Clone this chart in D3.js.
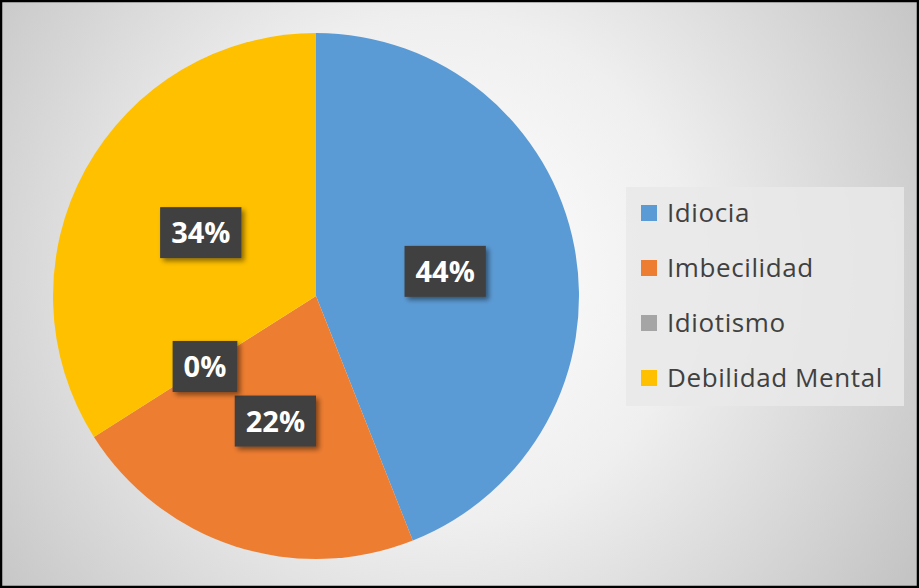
<!DOCTYPE html>
<html>
<head>
<meta charset="utf-8">
<script src="https://cdn.jsdelivr.net/npm/d3@7"></script>
<style>
  body { margin: 0; background: #fff; }
  svg { display: block; }
</style>
</head>
<body>
<div id="chart"></div>
<script>
// Datos del gráfico
const categories = ["Idiocia", "Imbecilidad", "Idiotismo", "Debilidad Mental"];
const values = [44, 22, 0, 34];
const colors = ["#5B9BD5", "#ED7D31", "#A5A5A5", "#FFC000"];

const width = 919;
const height = 588;
const cx = 316, cy = 296, radius = 263;

const svg = d3.select("#chart").append("svg")
  .attr("width", width)
  .attr("height", height);

const defs = svg.append("defs");

// Fondo con degradado radial
const bg = defs.append("radialGradient")
  .attr("id", "bg")
  .attr("gradientUnits", "userSpaceOnUse")
  .attr("cx", 440).attr("cy", 270).attr("r", 560);
bg.append("stop").attr("offset", "0%").attr("stop-color", "#ffffff");
bg.append("stop").attr("offset", "45%").attr("stop-color", "#efefef");
bg.append("stop").attr("offset", "100%").attr("stop-color", "#c4c4c4");

// Sombra de las etiquetas
const shadow = defs.append("filter")
  .attr("id", "shadow")
  .attr("x", "-20%").attr("y", "-20%")
  .attr("width", "150%").attr("height", "150%");
shadow.append("feDropShadow")
  .attr("dx", 3).attr("dy", 3)
  .attr("stdDeviation", 2.5)
  .attr("flood-color", "#000")
  .attr("flood-opacity", 0.45);

svg.append("rect")
  .attr("x", 0).attr("y", 0)
  .attr("width", width).attr("height", height)
  .attr("fill", "url(#bg)");

// Borde negro
svg.append("rect")
  .attr("x", 1).attr("y", 1)
  .attr("width", width - 2).attr("height", height - 2)
  .attr("fill", "none")
  .attr("stroke", "#000")
  .attr("stroke-width", 2.5);

const pieData = d3.pie().sort(null)(values);

const arc = d3.arc().innerRadius(0).outerRadius(radius);

const g = svg.append("g").attr("transform", `translate(${cx},${cy})`);

g.selectAll(".slice")
  .data(pieData)
  .enter()
  .append("path")
  .attr("class", "slice")
  .attr("d", arc)
  .attr("fill", (d, i) => colors[i]);

// Etiquetas de porcentaje
const labels = g.selectAll(".pct")
  .data(pieData)
  .enter()
  .append("g")
  .attr("class", "pct")
  .attr("transform", d => `translate(${arc.centroid(d)})`);

labels.each(function (d) {
  const lg = d3.select(this);
  const box = lg.append("rect")
    .attr("fill", "#404040")
    .attr("filter", "url(#shadow)");
  const txt = lg.append("text")
    .attr("text-anchor", "middle")
    .attr("dy", "0.36em")
    .style("font-family", "'Open Sans', sans-serif")
    .style("font-weight", "700")
    .style("font-size", "29px")
    .style("fill", "#fff")
    .text(d.data + "%");
  const w = txt.node().getComputedTextLength();
  box.attr("x", -w / 2 - 11)
    .attr("y", -25.5)
    .attr("width", w + 22)
    .attr("height", 51);
});

// Leyenda
const legend = svg.append("g").attr("transform", "translate(626,187)");

legend.append("rect")
  .attr("width", 278).attr("height", 219)
  .attr("fill", "#e9e9e9")
  .attr("fill-opacity", 0.85);

const items = legend.selectAll(".item")
  .data(categories)
  .enter()
  .append("g")
  .attr("class", "item")
  .attr("transform", (d, i) => `translate(15,${26 + i * 55})`);

items.append("rect")
  .attr("x", 0).attr("y", -8)
  .attr("width", 16).attr("height", 16)
  .attr("fill", (d, i) => colors[i]);

items.append("text")
  .attr("x", 26)
  .attr("dy", "0.36em")
  .style("font-family", "'Open Sans', sans-serif")
  .style("font-size", "26px")
  .style("letter-spacing", "0.6px")
  .style("fill", "#404040")
  .text(d => d);
</script>
</body>
</html>
